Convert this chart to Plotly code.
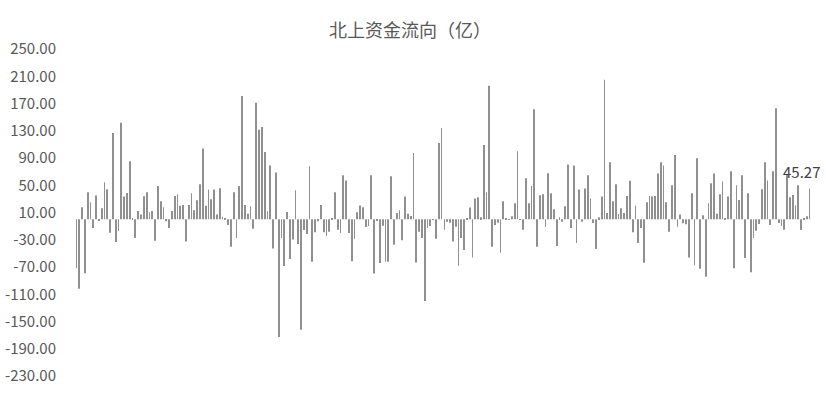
import plotly.graph_objects as go

# daily northbound net flow (亿元)
flow = [
    -71.7, -102, 17.7, -79, 39.8, 25, -12.8, 34.9, -1.5, 16.2,
    54.5, 44, -19.6, 126.7, -33.4, -17.2, 141.9, 33.4, 38.8, 85.4,
    1.5, -27.5, 12.3, 6.9, 33.9, 39.8, 10.3, 12.3, -31.4, 49,
    26.5, 17.7, -2.9, -12.8, 12.3, 34.4, 36.8, 20, 21, -32.4,
    21, 38.3, 13.3, 28, 51.5, 104, 20, 43.7, 29.5, 43.7,
    6.9, 45.7, 3.9, 1, -8.3, -40.3, 39.8, -27.5, 49, 181,
    21, 8.3, 19, -13.7, 171, 131.6, 135.5, 98.7, 11.8, 79,
    -42.7, 68.7, -172.8, -27.5, -68.7, 10.8, -58.4, -29.5, 42.7, -36.3,
    -162, -15.7, -21.6, 78, -62.3, -19.1, -2.9, 21, -19.1, -24.5,
    -18.2, 1.5, 39.8, -15.2, -20.1, 64.8, 57, -20.1, -61.4, -28.5,
    10.3, 20.1, 17.7, -11.3, -9.8, 64.8, -79.5, -2.5, -64.3, -9.3,
    -62.3, -62.3, 63.3, -37.3, 9.3, 13.3, -30.9, 33.4, 8.3, 4.9,
    97.2, -63.3, -18.2, -27.5, -119.8, -12.8, -9.8, -1, -28.5, 112,
    134, -15.2, -3.4, -4.9, -32.4, -10.8, -68.2, -27.5, -45.2, 1.5,
    17.2, -56, 30.4, 32.4, 2.9, 109, 39.8, 195.9, -40.3, -8.3,
    -4.9, -49.1, 26.5, 1.5, -1, 4.4, 23.6, 100, -1, -15.2,
    60.4, 23.6, 49, 161.5, -40.3, 35.3, 36.8, -11.3, 67.7, 38.3,
    14.7, -39.3, 2.9, -3.4, 19.1, 80.5, -12.8, 79, -34.9, 43.7,
    -3.4, 45.2, 64.8, 30.4, -5.4, -43.7, 2.9, 33.4, 204.7, 9.3,
    83.9, 26.5, 51.5, 7.9, 16.2, 9.3, 34.4, 56.5, -19.1, 20.1,
    -34.9, -12.8, -63.8, 25, 34.4, 33.4, 34.4, 67.3, 83.9, 79,
    25, -18.2, 50, 94.3, -10.8, 6.9, -5.9, -7.4, -56, 38.3,
    -67.3, 89.8, -72.7, 5.9, -84.4, 23.6, 53, 67.3, 8.3, 36.8,
    55.5, 1.5, 33.4, 70.7, -71.7, 50, 28.5, 64.8, -56.9, 38.3,
    -77.6, -27.5, -16.7, -6.9, 44.2, 83.9, 57, -8.3, 70.7, 163,
    -5.4, -9.8, -15.2, 66, 32.4, 35.8, 20.6, 50, -15.7, 1.5,
    4.4, 45.27,
]
days = list(range(len(flow)))

y_ticks = [250, 210, 170, 130, 90, 50, 10, -30, -70, -110, -150, -190, -230]
y_labels = [f"{v:.2f}" for v in y_ticks]

fig = go.Figure()
fig.add_trace(
    go.Bar(
        x=days,
        y=flow,
        marker=dict(color="#909090", line=dict(width=0)),
        hoverinfo="skip",
    )
)

# only the latest value carries a label
fig.add_annotation(
    x=days[-1], y=flow[-1],
    text=f"{flow[-1]:.2f}",
    showarrow=False,
    xanchor="center", yanchor="middle",
    xshift=-8, yshift=17,
    font=dict(family="Noto Sans CJK SC", size=15, color="#404040"),
)

fig.update_layout(
    width=826, height=407,
    margin=dict(l=75, r=15, t=49, b=31),
    paper_bgcolor="white",
    plot_bgcolor="white",
    showlegend=False,
    bargap=0.71,
    title=dict(
        text="北上资金流向（亿）",
        x=0.4964, xanchor="center",
        y=0.9238, yanchor="middle",
        font=dict(family="Noto Sans CJK SC", size=18, color="#595959"),
    ),
    font=dict(family="Noto Sans CJK SC", color="#595959"),
)
fig.update_xaxes(
    range=[-0.5, len(flow) - 0.5],
    automargin=False,
    showticklabels=False, showgrid=False, zeroline=False, showline=False,
)
fig.update_yaxes(
    range=[-230, 250],
    automargin=False,
    tickmode="array", tickvals=y_ticks, ticktext=y_labels,
    tickfont=dict(size=15, color="#595959"),
    ticklabelstandoff=18,
    showgrid=False, zeroline=False, showline=False,
)

# drop the default 8px page margin so the figure fills the window
fig.write_html(
    "out.html",
    config={"displayModeBar": False},
    post_script="document.body.style.margin = '0';",
)
